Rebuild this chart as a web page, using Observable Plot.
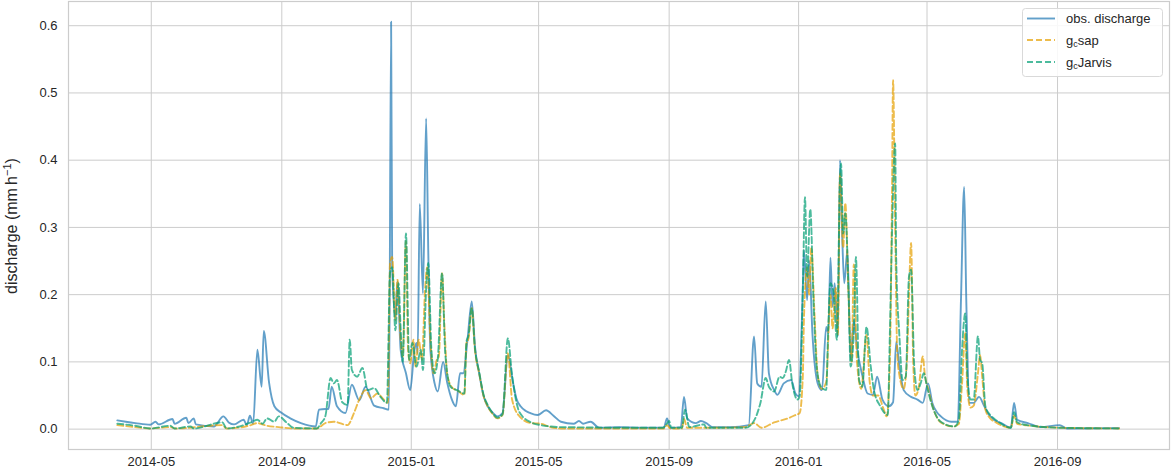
<!DOCTYPE html>
<html>
<head>
<meta charset="utf-8">
<script src="https://cdn.jsdelivr.net/npm/d3@7"></script>
<script src="https://cdn.jsdelivr.net/npm/@observablehq/plot@0.6"></script>
<style>
  html, body { margin: 0; padding: 0; background: #ffffff; }
  #chart { width: 1171px; height: 468px; }
</style>
</head>
<body>
<div id="chart"></div>
<script>
// Day offsets are days since 2014-04-01 (UTC); values in mm h^-1
const baseDate = "2014-04-01";

const obsDischarge = [
  [-2,0.013],[6,0.011],[15,0.009],[29,0.0065],[34,0.011],[37,0.007],[50,0.015],[52,0.008],
  [63,0.017],[65,0.009],[70,0.016],[72,0.007],[89,0.004],[98,0.019],[103,0.01],[108,0.007],
  [117,0.014],[120,0.006],[123,0.02],[126,0.008],[130,0.118],[134,0.063],[136,0.146],[141,0.069],
  [146,0.034],[152,0.025],[161,0.016],[171,0.009],[185,0.004],[188,0.029],[194,0.03],[197,0.03],
  [200,0.063],[205,0.034],[213,0.024],[219,0.066],[226,0.043],[232,0.063],[240,0.035],[249,0.031],
  [254,0.029],[256,0.606],[257,0.241],[260,0.167],[262,0.22],[265,0.118],[270,0.083],[274,0.058],
  [278,0.118],[280,0.128],[281,0.113],[283,0.335],[286,0.202],[289,0.462],[291,0.266],[293,0.118],
  [297,0.068],[300,0.056],[305,0.1],[309,0.068],[313,0.045],[317,0.034],[321,0.083],[324,0.083],[328,0.133],
  [332,0.19],[335,0.123],[339,0.083],[343,0.05],[347,0.034],[352,0.024],[356,0.019],[361,0.024],[366,0.11],[371,0.068],
  [374,0.046],[378,0.034],[383,0.027],[387,0.024],[394,0.021],[402,0.028],[409,0.02],[416,0.011],[428,0.008],[433,0.012],[437,0.008],
  [444,0.011],[452,0.002],[472,0.003],[491,0.002],[513,0.002],[516,0.016],[519,0.002],[529,0.003],[532,0.048],
  [535,0.016],[543,0.009],[548,0.012],[553,0.009],[559,0.003],[576,0.003],[593,0.006],[598,0.138],
  [601,0.068],[605,0.063],[609,0.19],[612,0.083],[617,0.058],[620,0.051],[626,0.068],[633,0.073],
  [637,0.053],[640,0.049],[644,0.212],[645,0.266],[648,0.192],[650,0.251],[653,0.143],[658,0.068],
  [662,0.058],[666,0.152],[668,0.143],[670,0.255],[672,0.182],[674,0.217],[677,0.138],[679,0.4],
  [681,0.291],[683,0.217],[686,0.266],[689,0.103],[692,0.162],[695,0.121],[700,0.08],[705,0.053],
  [710,0.051],[714,0.078],[719,0.044],[725,0.034],[729,0.04],[732,0.13],[735,0.093],[739,0.058],
  [746,0.048],[752,0.044],[757,0.039],[762,0.068],[766,0.039],[770,0.026],[774,0.019],[784,0.011],[790,0.011],
  [793,0.192],[796,0.36],[798,0.192],[801,0.039],[805,0.039],[810,0.048],[815,0.034],[819,0.022],[824,0.014],
  [831,0.009],[840,0.002],[843,0.039],[846,0.014],[856,0.009],[868,0.003],[886,0.006],[893,0.001],
  [942,0.0015]
];

const gcSap = [
  [-2,0.006],[15,0.003],[29,0.001],[48,0.003],[53,0.001],[97,0.006],[101,0.001],[124,0.006],
  [130,0.009],[139,0.005],[150,0.003],[164,0.001],[186,0.001],[194,0.009],[202,0.011],[215,0.006],
  [221,0.024],[226,0.044],[232,0.058],[237,0.046],[243,0.053],[249,0.044],[253,0.039],[254,0.143],
  [255,0.247],[257,0.256],[260,0.162],[262,0.222],[265,0.133],[267,0.108],[270,0.28],[272,0.118],
  [274,0.098],[277,0.133],[279,0.093],[282,0.133],[285,0.103],[288,0.207],[290,0.241],[293,0.133],
  [296,0.083],[299,0.103],[301,0.108],[304,0.232],[306,0.162],[309,0.08],[314,0.061],[318,0.058],
  [325,0.051],[327,0.128],[329,0.135],[332,0.18],[335,0.118],[339,0.083],[343,0.05],[347,0.034],[352,0.022],[356,0.016],
  [361,0.021],[366,0.113],[370,0.044],[377,0.019],[388,0.009],[397,0.008],[406,0.003],[416,0.001],
  [480,0.001],[513,0.001],[516,0.006],[519,0.001],[530,0.001],[532,0.015],[535,0.002],[560,0.002],[590,0.003],[598,0.009],
  [605,0.002],[617,0.01],[630,0.016],[637,0.021],[641,0.024],[644,0.08],[645,0.162],[648,0.241],
  [650,0.2],[652,0.27],[655,0.17],[658,0.08],[662,0.06],[666,0.07],[670,0.2],[672,0.15],
  [675,0.21],[677,0.14],[679,0.38],[682,0.27],[684,0.336],[687,0.2],[690,0.1],[692,0.245],
  [695,0.1],[699,0.06],[704,0.14],[707,0.07],[710,0.05],[715,0.05],[720,0.03],[723,0.019],
  [726,0.1],[728,0.35],[729,0.519],[731,0.3],[733,0.11],[735,0.08],[739,0.06],[742,0.1],
  [744,0.2],[746,0.277],[748,0.1],[750,0.05],[753,0.06],[757,0.108],[759,0.08],[762,0.06],
  [767,0.03],[774,0.01],[786,0.004],[791,0.008],[794,0.068],[797,0.143],[799,0.06],[802,0.032],
  [805,0.035],[809,0.083],[811,0.11],[813,0.078],[816,0.029],[820,0.017],[826,0.01],[840,0.002],[843,0.02],
  [846,0.008],[859,0.005],[887,0.002],[942,0.001]
];

const gcJarvis = [
  [-2,0.008],[15,0.005],[29,0.001],[48,0.005],[52,0.001],[67,0.004],[70,0.001],[97,0.01],
  [101,0.001],[124,0.01],[130,0.014],[135,0.008],[139,0.016],[146,0.011],[150,0.019],[158,0.009],
  [164,0.002],[186,0.001],[190,0.009],[194,0.019],[199,0.076],[202,0.068],[205,0.073],[210,0.04],
  [215,0.036],[217,0.133],[219,0.088],[224,0.078],[229,0.091],[234,0.058],[240,0.061],[246,0.048],
  [252,0.039],[255,0.232],[257,0.241],[260,0.147],[263,0.217],[265,0.15],[267,0.1],[270,0.291],
  [273,0.103],[276,0.128],[280,0.093],[284,0.118],[286,0.088],[289,0.207],[291,0.247],[294,0.118],
  [297,0.083],[300,0.105],[304,0.232],[307,0.113],[312,0.063],[318,0.058],[325,0.053],[327,0.13],
  [329,0.14],[332,0.18],[335,0.12],[339,0.085],[343,0.052],[347,0.036],[352,0.023],[356,0.017],[361,0.022],[366,0.135],
  [370,0.08],[377,0.025],[388,0.01],[397,0.006],[406,0.004],[416,0.003],[491,0.002],[512,0.002],[515,0.006],
  [518,0.012],[520,0.002],[530,0.002],[533,0.029],[537,0.003],[551,0.007],[553,0.002],[590,0.002],[595,0.006],
  [600,0.019],[604,0.039],[609,0.076],[612,0.063],[617,0.056],[622,0.078],[625,0.076],[628,0.086],
  [631,0.103],[634,0.068],[639,0.044],[641,0.049],[644,0.207],[646,0.345],[648,0.227],[651,0.327],
  [654,0.192],[657,0.093],[661,0.063],[666,0.058],[668,0.155],[670,0.217],[673,0.202],[676,0.133],
  [679,0.37],[680,0.395],[682,0.291],[684,0.321],[687,0.207],[689,0.093],[692,0.143],[694,0.256],
  [697,0.073],[700,0.063],[704,0.152],[708,0.093],[711,0.058],[717,0.034],[724,0.021],[726,0.143],
  [728,0.29],[731,0.425],[732,0.25],[735,0.138],[738,0.073],[741,0.078],[744,0.227],[746,0.237],
  [749,0.093],[752,0.058],[755,0.068],[758,0.083],[761,0.063],[766,0.034],[774,0.011],[787,0.004],
  [791,0.014],[794,0.118],[797,0.172],[799,0.08],[802,0.044],[805,0.044],[809,0.138],[811,0.103],
  [813,0.098],[816,0.034],[820,0.022],[824,0.016],[830,0.009],[840,0.002],[843,0.025],[846,0.01],[859,0.005],
  [887,0.002],[942,0.001]
];

const xTickLabels = ["2014-05","2014-09","2015-01","2015-05","2015-09","2016-01","2016-05","2016-09"];
const yTicks = [0.0, 0.1, 0.2, 0.3, 0.4, 0.5, 0.6];
const xDomainDays = [-48, 989.5];
const yDomain = [-0.0303, 0.636];

const seriesNames = ["obs. discharge", "sap", "Jarvis"];
const seriesColors = ["#1f77b4", "#e69f00", "#009e73"];

const base = new Date(baseDate + "T00:00:00Z");
const toDate = d => new Date(base.getTime() + d * 864e5);
const toRows = arr => arr.map(([d, v]) => ({date: toDate(d), value: v}));
const xTicks = xTickLabels.map(s => new Date(s + "-01T00:00:00Z"));

const obsRows = toRows(obsDischarge);
const sapRows = toRows(gcSap);
const jarRows = toRows(gcJarvis);

const grid = "#cccccc";

const chart = Plot.plot({
  width: 1171,
  height: 468,
  marginLeft: 68,
  marginRight: 2,
  marginTop: 1,
  marginBottom: 19,
  style: {fontFamily: "'Liberation Sans', Arial, sans-serif", fontSize: "13px", color: "#262626", background: "#ffffff"},
  x: {type: "utc", domain: xDomainDays.map(toDate), ticks: xTicks, tickFormat: d3.utcFormat("%Y-%m"), tickSize: 0, tickPadding: 7, label: null},
  y: {domain: yDomain, ticks: yTicks, tickFormat: d3.format(".1f"), tickSize: 0, tickPadding: 11, label: null},
  marks: [
    Plot.gridX(xTicks, {stroke: grid, strokeOpacity: 1, strokeWidth: 1}),
    Plot.gridY(yTicks, {stroke: grid, strokeOpacity: 1, strokeWidth: 1}),
    Plot.frame({stroke: grid, strokeWidth: 1.2}),
    Plot.line(obsRows, {x: "date", y: "value", stroke: seriesColors[0], strokeOpacity: 0.7, strokeWidth: 1.9, curve: "monotone-x"}),
    Plot.line(sapRows, {x: "date", y: "value", stroke: seriesColors[1], strokeOpacity: 0.7, strokeWidth: 1.9, strokeDasharray: "6,3", curve: "monotone-x"}),
    Plot.line(jarRows, {x: "date", y: "value", stroke: seriesColors[2], strokeOpacity: 0.7, strokeWidth: 1.9, strokeDasharray: "6,3", curve: "monotone-x"})
  ]
});

document.getElementById("chart").appendChild(chart);

const svg = d3.select(chart);
const font = "'Liberation Sans', Arial, sans-serif";

// Y-axis label with superscript
const yl = svg.append("text")
  .attr("transform", "translate(17,226) rotate(-90)")
  .attr("text-anchor", "middle")
  .attr("font-family", font)
  .attr("font-size", 16)
  .attr("fill", "#262626");
yl.append("tspan").text("discharge (mm\u2009h");
yl.append("tspan").attr("font-size", 11).attr("dy", -6).text("\u22121");
yl.append("tspan").attr("dy", 6).text(")");

// Legend
const lg = svg.append("g")
  .attr("font-family", font)
  .attr("font-size", 13)
  .attr("fill", "#262626")
  .attr("text-anchor", "start");
lg.append("rect")
  .attr("x", 1022.5).attr("y", 8.5).attr("width", 140).attr("height", 68)
  .attr("rx", 3).attr("fill", "#ffffff").attr("fill-opacity", 0.85)
  .attr("stroke", "#d9d9d9").attr("stroke-width", 1);
const rowsY = [18.5, 40, 62];
seriesNames.forEach((name, i) => {
  const y = rowsY[i];
  const ln = lg.append("line")
    .attr("x1", 1027).attr("x2", 1055).attr("y1", y).attr("y2", y)
    .attr("stroke", seriesColors[i]).attr("stroke-opacity", 0.7).attr("stroke-width", 1.9);
  if (i > 0) ln.attr("stroke-dasharray", "6,3");
  const t = lg.append("text").attr("x", 1066).attr("y", y + 4.5).attr("text-anchor", "start");
  if (i === 0) {
    t.text(name);
  } else {
    t.append("tspan").text("g");
    t.append("tspan").attr("font-size", 9).attr("dy", 2.5).text("c");
    t.append("tspan").attr("dy", -2.5).text(name);
  }
});
</script>
</body>
</html>
